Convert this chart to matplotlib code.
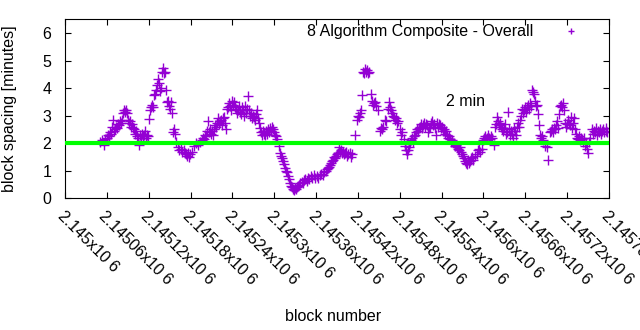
import matplotlib
matplotlib.use('Agg')
import matplotlib.pyplot as plt
import numpy as np

plt.rcParams['font.family'] = ['Liberation Sans', 'DejaVu Sans']

base_block = 2145000
# block offsets from base_block, and block spacing in minutes
offsets = [
    50, 53, 56, 57, 60, 62, 63, 65, 66, 67, 69, 70, 72, 73, 75, 76, 77, 79, 80, 82,
    83, 85, 86, 87, 89, 90, 92, 93, 95, 96, 97, 99, 100, 102, 103, 105, 106, 108, 109, 110,
    112, 113, 115, 116, 118, 119, 120, 122, 123, 125, 126, 128, 129, 130, 132, 133, 135, 136, 138, 139,
    140, 142, 143, 145, 146, 148, 149, 150, 152, 153, 155, 156, 158, 159, 162, 163, 166, 168, 171, 172,
    173, 175, 176, 178, 179, 182, 185, 188, 191, 194, 196, 198, 199, 201, 202, 204, 205, 206, 208, 209,
    211, 212, 214, 215, 217, 218, 219, 221, 222, 224, 225, 227, 228, 229, 231, 232, 234, 235, 237, 238,
    239, 241, 242, 244, 245, 247, 248, 250, 251, 253, 254, 255, 257, 258, 260, 261, 262, 264, 265, 267,
    268, 270, 271, 272, 274, 275, 277, 278, 280, 281, 283, 284, 285, 287, 288, 290, 291, 293, 294, 295,
    297, 298, 300, 301, 303, 304, 307, 308, 310, 311, 313, 314, 315, 317, 318, 320, 321, 323, 324, 326,
    327, 328, 330, 331, 333, 334, 336, 337, 340, 341, 343, 344, 347, 348, 350, 353, 354, 357, 358, 361,
    363, 366, 367, 370, 371, 374, 376, 377, 379, 380, 381, 383, 384, 386, 387, 389, 390, 391, 393, 394,
    396, 397, 399, 400, 401, 403, 404, 406, 409, 410, 412, 416, 419, 420, 422, 423, 425, 426, 427, 429,
    430, 432, 433, 435, 436, 439, 440, 442, 443, 445, 446, 449, 452, 453, 455, 456, 459, 460, 463, 465,
    466, 468, 469, 470, 472, 473, 475, 476, 478, 480, 482, 483, 486, 487, 489, 490, 492, 493, 495, 496,
    498, 499, 500, 502, 503, 505, 506, 508, 509, 510, 512, 513, 515, 516, 518, 519, 520, 522, 523, 525,
    526, 528, 529, 530, 532, 533, 535, 536, 538, 539, 540, 542, 543, 545, 546, 548, 549, 551, 552, 553,
    555, 558, 559, 560, 562, 563, 565, 566, 568, 569, 570, 572, 573, 575, 576, 578, 579, 581, 582, 583,
    585, 588, 591, 592, 594, 595, 598, 599, 601, 602, 604, 605, 606, 608, 609, 611, 612, 615, 616, 618,
    619, 621, 622, 624, 625, 627, 628, 629, 631, 632, 634, 635, 637, 638, 639, 641, 642, 644, 645, 647,
    648, 650, 651, 652, 654, 655, 657, 658, 660, 661, 662, 664, 665, 667, 668, 670, 671, 672, 674, 675,
    677, 678, 680, 681, 682, 684, 685, 688, 691, 692, 695, 697, 698, 700, 701, 702, 704, 705, 707, 708,
    710, 711, 713, 714, 715, 717, 718, 720, 721, 723, 724, 725, 727, 728, 730, 731, 733, 734, 736, 737,
    738, 740, 741, 743, 744, 746, 747, 749, 750, 751, 753, 756, 757, 759, 760, 762, 763, 764, 766, 767,
    769, 770, 772, 773, 775, 776, 777,
]
spacing = [
    2.05, 2.1, 1.95, 2.15, 2.2, 2.3, 2.25, 2.4, 2.35, 2.6, 2.85, 2.45, 2.5, 2.6, 2.55, 2.7, 2.65, 2.8, 2.75, 2.85,
    3.1, 3.2, 3.15, 3.2, 3.1, 2.85, 2.75, 2.8, 2.6, 2.7, 2.55, 2.5, 2.35, 2.45, 2.25, 2.2, 1.95, 2.3, 2.2, 2.35,
    2.25, 2.3, 2.45, 2.2, 2.3, 2.25, 2.88, 3.2, 3.3, 3.4, 3.3, 3.75, 3.8, 3.95, 4.1, 4.35, 4.2, 3.9, 4.0, 4.6,
    4.75, 4.55, 4.6, 3.95, 3.5, 3.55, 3.35, 3.25, 3.5, 3.1, 2.4, 2.5, 2.35, 2.05, 1.85, 1.75, 1.8, 1.7, 1.75, 1.65,
    1.6, 1.55, 1.65, 1.5, 1.6, 1.7, 1.9, 2.0, 1.95, 2.05, 2.1, 2.2, 2.15, 2.3, 2.25, 2.45, 2.8, 2.4, 2.5, 2.35,
    2.45, 2.3, 2.5, 2.65, 2.6, 2.75, 2.9, 2.7, 2.8, 2.85, 2.65, 2.9, 2.95, 2.75, 2.5, 3.25, 3.3, 3.45, 3.35, 3.2,
    3.55, 3.4, 3.5, 3.3, 3.25, 3.1, 3.2, 3.35, 3.15, 3.05, 3.3, 3.2, 3.0, 3.35, 3.1, 3.25, 3.7, 3.2, 3.0, 3.1,
    2.9, 3.0, 2.95, 2.85, 3.05, 3.2, 2.9, 2.75, 2.55, 2.4, 2.3, 2.45, 2.35, 2.3, 2.45, 2.35, 2.5, 2.4, 2.55, 2.45,
    2.6, 2.5, 2.4, 2.3, 2.25, 2.15, 1.9, 1.65, 1.55, 1.45, 1.35, 1.25, 1.1, 1.0, 0.95, 0.8, 0.7, 0.55, 0.45, 0.4,
    0.35, 0.3, 0.38, 0.35, 0.42, 0.45, 0.5, 0.55, 0.6, 0.55, 0.65, 0.7, 0.62, 0.75, 0.7, 0.8, 0.75, 0.85, 0.72, 0.8,
    0.75, 0.85, 0.9, 0.85, 0.95, 1.0, 1.05, 1.1, 1.15, 1.2, 1.3, 1.35, 1.4, 1.5, 1.45, 1.55, 1.6, 1.65, 1.85, 1.7,
    1.75, 1.65, 1.7, 1.6, 1.65, 1.7, 1.55, 1.6, 1.65, 1.5, 1.6, 2.3, 2.85, 3.0, 2.95, 3.1, 3.2, 3.75, 4.6, 4.55,
    4.7, 4.6, 4.65, 4.55, 4.6, 3.8, 3.55, 3.4, 3.45, 3.5, 3.35, 3.2, 2.45, 2.55, 2.5, 2.6, 2.85, 2.8, 3.25, 3.5,
    3.3, 3.2, 3.1, 3.0, 2.95, 2.85, 2.9, 2.75, 2.8, 2.5, 2.3, 2.4, 2.15, 1.9, 1.75, 1.6, 1.75, 1.85, 2.0, 2.1,
    2.2, 2.05, 2.25, 2.3, 2.4, 2.5, 2.45, 2.55, 2.6, 2.7, 2.55, 2.65, 2.75, 2.6, 2.7, 2.65, 2.4, 2.55, 2.6, 2.75,
    2.8, 2.65, 2.7, 2.55, 2.3, 2.75, 2.6, 2.7, 2.65, 2.55, 2.6, 2.45, 2.5, 2.35, 2.45, 2.3, 2.2, 2.25, 2.15, 2.05,
    2.1, 2.0, 1.9, 1.95, 1.85, 1.8, 1.75, 1.85, 1.7, 1.6, 1.55, 1.45, 1.35, 1.3, 1.25, 1.4, 1.3, 1.35, 1.45, 1.5,
    1.4, 1.55, 1.6, 1.75, 1.8, 1.7, 1.8, 2.1, 2.2, 2.25, 2.15, 2.2, 2.3, 2.2, 2.15, 2.25, 2.2, 1.95, 2.6, 2.7,
    2.95, 2.8, 2.65, 2.75, 2.6, 2.5, 2.45, 2.55, 2.7, 2.35, 2.4, 3.15, 2.5, 2.3, 2.45, 2.35, 2.2, 2.55, 2.45, 2.3,
    2.6, 2.75, 2.6, 2.85, 3.0, 3.25, 3.1, 3.2, 3.3, 3.15, 3.3, 3.4, 3.25, 3.45, 3.35, 3.95, 3.85, 3.8, 3.55, 3.35,
    3.4, 3.05, 2.65, 2.3, 2.2, 2.25, 2.1, 1.9, 1.85, 1.4, 2.4, 2.45, 2.5, 2.4, 2.55, 2.5, 2.65, 2.8, 2.55, 3.05,
    3.35, 3.4, 3.3, 3.45, 3.2, 2.75, 2.6, 2.7, 2.85, 2.7, 2.65, 2.95, 2.55, 2.75, 2.9, 2.5, 2.35, 2.2, 2.15, 2.25,
    2.1, 2.2, 2.15, 2.05, 2.2, 1.9, 2.0, 1.8, 1.65, 2.05, 2.2, 2.5, 2.35, 2.45, 2.4, 2.55, 2.3, 2.45, 2.4, 2.5,
    2.35, 2.45, 2.5, 2.4, 2.55, 2.45, 2.4,
]
target_minutes = 2

tick_offsets = list(range(0, 781, 60))
tick_labels = ['2.145x10 6', '2.14506x10 6', '2.14512x10 6', '2.14518x10 6', '2.14524x10 6',
               '2.1453x10 6', '2.14536x10 6', '2.14542x10 6', '2.14548x10 6', '2.14554x10 6',
               '2.1456x10 6', '2.14566x10 6', '2.14572x10 6', '2.14578x10 6']

blocks = base_block + np.array(offsets)
fs = 11.5

fig = plt.figure(figsize=(6.4, 3.3), dpi=100)
ax = fig.add_axes([0.1016, 0.399, 0.85, 0.5425])

ax.plot(blocks, spacing, '+', color='#9400d3', markersize=7, markeredgewidth=1.0,
        label='8 Algorithm Composite - Overall', zorder=2)
ax.axhline(target_minutes, color='#00ff00', linewidth=3.0, zorder=3)
ax.text(base_block + 574, 3.5, '2 min', ha='center', va='center', fontsize=fs)

ax.set_xlim(base_block, base_block + 780)
ax.set_ylim(0, 6.5)
ax.set_yticks(range(0, 7))
ax.set_xticks(base_block + np.array(tick_offsets))
ax.set_xticklabels(tick_labels, rotation=-45, ha='left', va='top', rotation_mode='anchor')
ax.tick_params(direction='in', top=True, right=True, length=4, labelsize=fs, pad=7)
ax.tick_params(axis='y', pad=10)

ax.set_xlabel('block number', fontsize=fs)
ax.xaxis.set_label_coords(0.493, -0.62)
ax.set_ylabel('block spacing [minutes]', fontsize=fs)
ax.yaxis.set_label_coords(-0.088, 0.5)

ax.legend(loc='upper right', markerfirst=False, frameon=False, fontsize=fs,
          markerscale=0.6, handlelength=1.5, handletextpad=1.6,
          borderaxespad=0.2, bbox_to_anchor=(0.969, 1.025))

fig.savefig('out.png', dpi=100)
